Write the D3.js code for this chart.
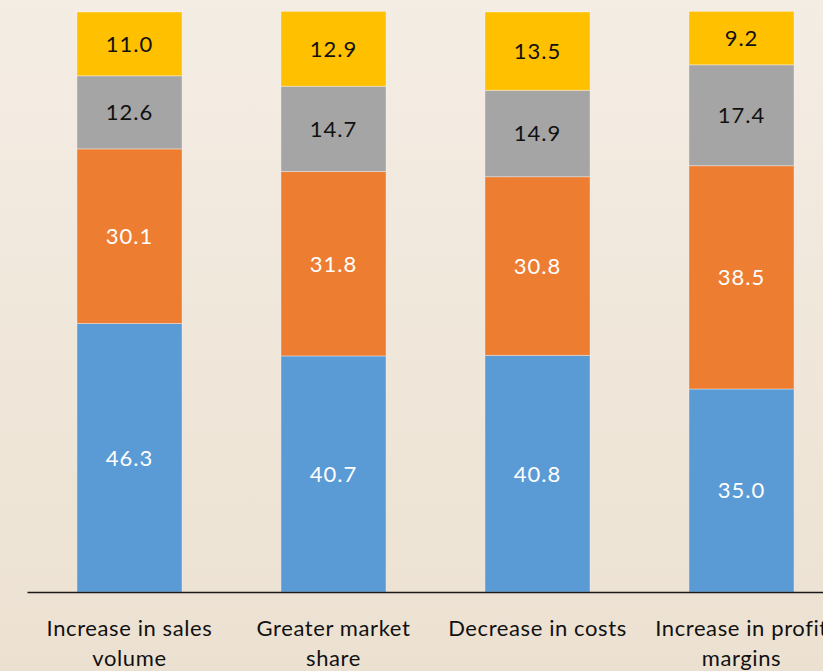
<!DOCTYPE html>
<html lang="en">
<head>
<meta charset="UTF-8">
<script src="https://d3js.org/d3.v7.min.js" charset="utf-8"></script>
<title>Stacked bars</title>
<style>
  html, body { margin: 0; padding: 0; }
  body { width: 823px; height: 671px; overflow: hidden; }
  text { font-family: Lato, "Open Sans", sans-serif; }
</style>
</head>
<body>
<div id="chart"></div>
<script>
// data
const categories = ["Increase in sales volume", "Greater market share", "Decrease in costs", "Increase in profit margins"];
const categoryLines = [["Increase in sales", "volume"], ["Greater market", "share"], ["Decrease in costs"], ["Increase in profit", "margins"]];
const seriesNames = ["s1", "s2", "s3", "s4"];
const s1 = [46.3, 40.7, 40.8, 35.0];
const s2 = [30.1, 31.8, 30.8, 38.5];
const s3 = [12.6, 14.7, 14.9, 17.4];
const s4 = [11.0, 12.9, 13.5, 9.2];
const colors = ["#5b9bd5", "#ed7d31", "#a5a5a5", "#ffc000"];
const labelColors = ["#ffffff", "#ffffff", "#111111", "#111111"];

const width = 823, height = 671;
const svg = d3.select("#chart").append("svg")
    .attr("width", width)
    .attr("height", height);

const defs = svg.append("defs");
const grad = defs.append("linearGradient")
    .attr("id", "bg").attr("x1", 0).attr("y1", 0).attr("x2", 0).attr("y2", 1);
grad.append("stop").attr("offset", "0%").attr("stop-color", "#f4ede4");
grad.append("stop").attr("offset", "100%").attr("stop-color", "#ece1d1");
svg.append("rect").attr("width", width).attr("height", height).attr("fill", "url(#bg)");

const x = d3.scaleBand()
    .domain(categories)
    .range([27.5, 843.5])
    .paddingInner(0.485)
    .paddingOuter(0.2425);

const y = d3.scaleLinear().domain([0, 100]).range([592, 12]);

const table = categories.map((c, i) => ({ cat: c, s1: s1[i], s2: s2[i], s3: s3[i], s4: s4[i] }));
const stacked = d3.stack().keys(seriesNames)(table);

const layers = svg.selectAll("g.layer")
    .data(stacked)
    .join("g")
    .attr("class", "layer");

layers.selectAll("rect")
    .data(d => d)
    .join("rect")
    .attr("x", d => x(d.data.cat))
    .attr("width", x.bandwidth())
    .attr("y", d => y(d[1]))
    .attr("height", d => y(d[0]) - y(d[1]))
    .attr("fill", (d, i, n) => colors[seriesNames.indexOf(d3.select(n[i].parentNode).datum().key)])
    .attr("stroke", "rgba(255,255,255,0.35)")
    .attr("stroke-width", 1);

layers.selectAll("text")
    .data(d => d.map(v => ({ v: v, key: d.key })))
    .join("text")
    .attr("x", d => x(d.v.data.cat) + x.bandwidth() / 2)
    .attr("y", d => (y(d.v[0]) + y(d.v[1])) / 2)
    .attr("dy", "0.36em")
    .attr("text-anchor", "middle")
    .attr("font-size", "22px")
    .attr("letter-spacing", "1px")
    .attr("fill", d => labelColors[seriesNames.indexOf(d.key)])
    .text(d => d3.format(".1f")(d.v[1] - d.v[0]));

// axis baseline
svg.append("line")
    .attr("x1", 27.5).attr("x2", width)
    .attr("y1", y(0) + 0.5).attr("y2", y(0) + 0.5)
    .attr("stroke", "#1a1a1a").attr("stroke-width", 1.5);

const labels = svg.append("g");
categories.forEach((c, i) => {
    const t = labels.append("text")
        .attr("x", x(c) + x.bandwidth() / 2)
        .attr("y", 636)
        .attr("text-anchor", "middle")
        .attr("font-size", "22px")
        .attr("letter-spacing", "0.6px")
        .attr("fill", "#111");
    categoryLines[i].forEach((line, j) => {
        t.append("tspan")
            .attr("x", x(c) + x.bandwidth() / 2)
            .attr("dy", j === 0 ? 0 : 30)
            .text(line);
    });
});
</script>
</body>
</html>
